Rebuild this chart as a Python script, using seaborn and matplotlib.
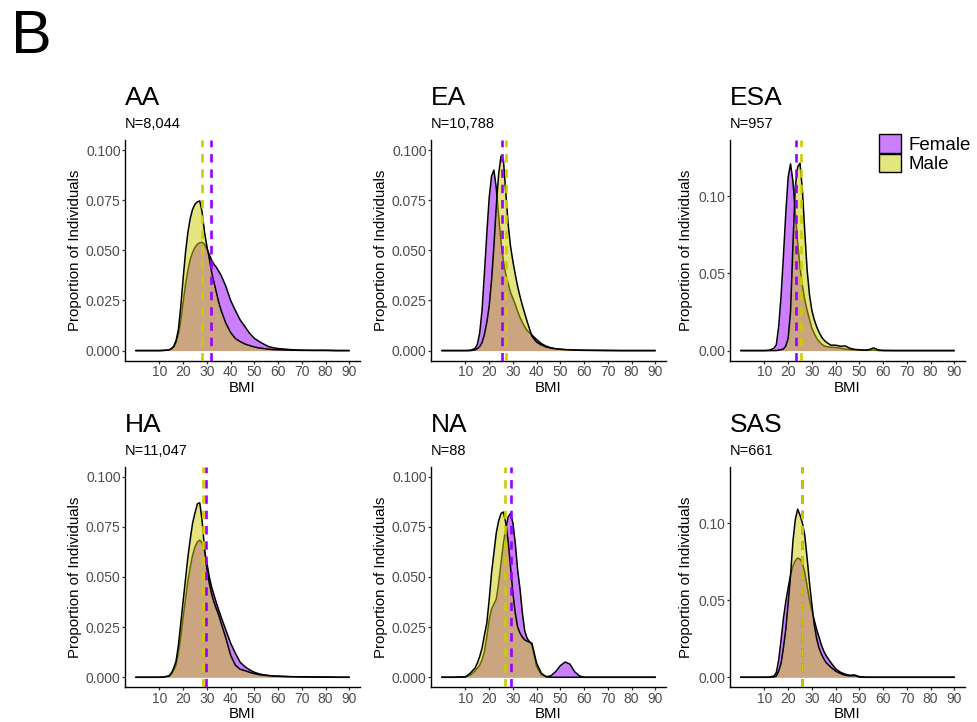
"""BMI density by sex for six ancestry groups (panel B)."""

import matplotlib
matplotlib.use('Agg')
import matplotlib.pyplot as plt
import seaborn as sns
from matplotlib.patches import Patch
from matplotlib.ticker import FormatStrFormatter

sns.set_theme(style='ticks')
plt.rcParams['font.family'] = ['Liberation Sans', 'DejaVu Sans']
plt.rcParams['text.color'] = 'black'
plt.rcParams['axes.labelcolor'] = 'black'

# ---- values --------------------------------------------------------------
bmi = [0, 5, 10, 12, 14, 15, 16, 17, 18, 19, 20, 21, 22, 23, 24, 25, 26, 27, 28, 29,
       30, 31, 32, 33, 34, 35, 36, 38, 40, 42, 44, 46, 48, 50, 52, 54, 56, 58, 60,
       65, 70, 75, 80, 85, 90]

groups = ['AA', 'EA', 'ESA', 'HA', 'NA', 'SAS']
sample_sizes = ['8,044', '10,788', '957', '11,047', '88', '661']
female_means = [31.6, 25.4, 23.2, 29.5, 29.2, 25.8]
male_means = [28.1, 26.9, 25.3, 28.4, 26.8, 26.0]

female_aa = [0, 0, 0, 0.0001, 0.0003, 0.0008, 0.0018, 0.004, 0.008, 0.015, 0.024, 0.033,
             0.040, 0.0455, 0.049, 0.0515, 0.053, 0.0538, 0.054, 0.053, 0.0505, 0.048,
             0.045, 0.043, 0.0415, 0.0395, 0.0375, 0.032, 0.025, 0.020, 0.0153, 0.012,
             0.0086, 0.0061, 0.0045, 0.0032, 0.002, 0.0014, 0.001, 0.0005, 0.0002,
             0.0001, 0.0001, 0, 0]
male_aa = [0, 0, 0, 0.0001, 0.0003, 0.001, 0.002, 0.005, 0.0105, 0.022, 0.036, 0.049,
           0.059, 0.066, 0.0705, 0.073, 0.0742, 0.0746, 0.069, 0.059, 0.052, 0.046,
           0.039, 0.034, 0.029, 0.024, 0.020, 0.0136, 0.009, 0.006, 0.0045, 0.0033,
           0.0025, 0.0018, 0.0013, 0.001, 0.0007, 0.0005, 0.0004, 0.0002, 0.0001,
           0.0001, 0.0001, 0, 0]

female_ea = [0, 0, 0, 0.0001, 0.001, 0.003, 0.0086, 0.020, 0.0385, 0.058, 0.076, 0.087,
             0.090, 0.081, 0.067, 0.054, 0.0445, 0.038, 0.0335, 0.029, 0.026, 0.023,
             0.0195, 0.0165, 0.014, 0.0118, 0.010, 0.0078, 0.0055, 0.0035, 0.0022,
             0.0014, 0.0009, 0.0006, 0.0004, 0.0003, 0.0002, 0.0002, 0.0001, 0.0001,
             0, 0, 0, 0, 0]
male_ea = [0, 0, 0, 0, 0.0003, 0.001, 0.002, 0.004, 0.008, 0.014, 0.022, 0.035, 0.052,
           0.072, 0.088, 0.097, 0.095, 0.079, 0.063, 0.052, 0.0445, 0.038, 0.032, 0.027,
           0.0225, 0.0185, 0.0145, 0.0072, 0.0042, 0.0028, 0.0018, 0.0012, 0.0009,
           0.0007, 0.0005, 0.0004, 0.0003, 0.0002, 0.0002, 0.0001, 0.0001, 0, 0, 0, 0]

female_esa = [0, 0, 0, 0.0002, 0.0015, 0.0037, 0.0155, 0.035, 0.061, 0.089, 0.1125,
              0.121, 0.110, 0.090, 0.070, 0.054, 0.042, 0.033, 0.026, 0.020, 0.0145,
              0.011, 0.008, 0.006, 0.0043, 0.0032, 0.0026, 0.0022, 0.002, 0.0015, 0.001,
              0.0006, 0.0004, 0.0003, 0.0002, 0.0002, 0.0003, 0.0001, 0, 0, 0, 0, 0, 0, 0]
male_esa = [0, 0, 0, 0, 0, 0, 0.0003, 0.0006, 0.001, 0.003, 0.008, 0.025, 0.068, 0.106,
            0.119, 0.1215, 0.104, 0.077, 0.052, 0.036, 0.026, 0.020, 0.0155, 0.012,
            0.009, 0.007, 0.0055, 0.0035, 0.0035, 0.0028, 0.003, 0.0015, 0.0008, 0.0005,
            0.0003, 0.0006, 0.0017, 0.0004, 0.0001, 0, 0, 0, 0, 0, 0]

female_ha = [0, 0, 0, 0.0001, 0.0005, 0.0015, 0.0035, 0.006, 0.012, 0.020, 0.030, 0.039,
             0.048, 0.055, 0.061, 0.065, 0.0675, 0.0684, 0.067, 0.063, 0.057, 0.050,
             0.045, 0.041, 0.037, 0.0335, 0.030, 0.0235, 0.017, 0.012, 0.0075, 0.0053,
             0.0037, 0.0025, 0.0017, 0.0012, 0.0009, 0.0006, 0.0005, 0.0003, 0.0002,
             0.0001, 0.0001, 0, 0]
male_ha = [0, 0, 0, 0.0002, 0.0007, 0.002, 0.0045, 0.008, 0.016, 0.027, 0.038, 0.049,
           0.060, 0.069, 0.077, 0.082, 0.0865, 0.087, 0.078, 0.064, 0.054, 0.047, 0.0415,
           0.0375, 0.034, 0.031, 0.027, 0.0195, 0.011, 0.006, 0.004, 0.0033, 0.0025,
           0.0018, 0.0013, 0.001, 0.0008, 0.0006, 0.0005, 0.0003, 0.0002, 0.0001,
           0.0001, 0, 0]

female_na = [0, 0, 0.0002, 0.001, 0.003, 0.0045, 0.006, 0.0086, 0.0128, 0.020, 0.0286,
             0.034, 0.0365, 0.039, 0.047, 0.057, 0.0668, 0.074, 0.080, 0.0817, 0.077,
             0.0668, 0.0535, 0.044, 0.032, 0.023, 0.0194, 0.016, 0.0053, 0.0012, 0.0003,
             0.0007, 0.0028, 0.0058, 0.0076, 0.0066, 0.0028, 0.0007, 0, 0, 0, 0, 0, 0, 0]
male_na = [0, 0, 0.0002, 0.002, 0.0045, 0.007, 0.0103, 0.0145, 0.021, 0.027, 0.0385,
           0.052, 0.062, 0.072, 0.078, 0.0817, 0.0824, 0.077, 0.068, 0.055, 0.042, 0.032,
           0.025, 0.022, 0.020, 0.0186, 0.018, 0.017, 0.007, 0.002, 0.0003, 0, 0, 0, 0,
           0, 0, 0, 0, 0, 0, 0, 0, 0, 0]

female_sas = [0, 0, 0, 0.0001, 0.0008, 0.003, 0.011, 0.024, 0.038, 0.049, 0.058, 0.066,
              0.072, 0.0755, 0.0773, 0.0765, 0.074, 0.068, 0.059, 0.050, 0.043, 0.037,
              0.031, 0.026, 0.021, 0.017, 0.014, 0.0095, 0.0055, 0.0033, 0.002, 0.0013,
              0.0015, 0.0004, 0.0001, 0, 0, 0, 0, 0, 0, 0, 0, 0, 0]
male_sas = [0, 0, 0, 0, 0.0002, 0.0008, 0.004, 0.009, 0.019, 0.031, 0.048, 0.066, 0.088,
            0.102, 0.109, 0.105, 0.100, 0.092, 0.077, 0.061, 0.047, 0.034, 0.025, 0.019,
            0.015, 0.012, 0.0095, 0.0065, 0.004, 0.0025, 0.0013, 0.0009, 0.0011, 0.0002,
            0, 0, 0, 0, 0, 0, 0, 0, 0, 0, 0]

female_curves = [female_aa, female_ea, female_esa, female_ha, female_na, female_sas]
male_curves = [male_aa, male_ea, male_esa, male_ha, male_na, male_sas]

# ---- styling ---------------------------------------------------------------
female_color = '#9900FF'
male_color = '#CCCC00'
W, H = 977, 722
col_left = [125, 431, 730]
row_top = [140, 466.7]
ax_w, ax_h = 235, 220.6

fig = plt.figure(figsize=(W / 100, H / 100), dpi=100)
fig.text(11 / W, 1 - 53 / H, 'B', fontsize=44, ha='left', va='baseline')

for i, group in enumerate(groups):
    row, col = divmod(i, 3)
    ax = fig.add_axes([col_left[col] / W, 1 - (row_top[row] + ax_h) / H, ax_w / W, ax_h / H])

    ax.fill_between(bmi, female_curves[i], color=female_color, alpha=0.5, lw=0, zorder=1)
    sns.lineplot(x=bmi, y=female_curves[i], ax=ax, color='black', lw=1.1, zorder=2)
    ax.fill_between(bmi, male_curves[i], color=male_color, alpha=0.5, lw=0, zorder=3)
    sns.lineplot(x=bmi, y=male_curves[i], ax=ax, color='black', lw=1.1, zorder=4)
    ax.axvline(female_means[i], color=female_color, lw=1.9, ls=(0, (3.2, 2.6)), zorder=5)
    ax.axvline(male_means[i], color=male_color, lw=1.9, ls=(0, (3.2, 2.6)), zorder=6)

    ax.set_xlim(-4.5, 94.5)
    ax.set_xticks(range(10, 91, 10))
    tall = group in ('ESA', 'SAS')
    if tall:
        ax.set_ylim(-0.0065, 0.1365)
        ax.set_yticks([0, 0.05, 0.10])
        ax.yaxis.set_major_formatter(FormatStrFormatter('%.2f'))
    else:
        ax.set_ylim(-0.005, 0.105)
        ax.set_yticks([0, 0.025, 0.05, 0.075, 0.1])
        ax.yaxis.set_major_formatter(FormatStrFormatter('%.3f'))

    sns.despine(ax=ax)
    for side in ('left', 'bottom'):
        ax.spines[side].set_color('black')
        ax.spines[side].set_linewidth(1.0)
    ax.tick_params(length=2.4, width=0.9, color='#333333', labelcolor='#4D4D4D',
                   labelsize=10, pad=0.7)

    ax.set_xlabel('BMI', fontsize=10.8)
    ax.set_ylabel('Proportion of Individuals', fontsize=10.8)
    ax.xaxis.set_label_coords(0.5, -20 / ax_h)
    ax.yaxis.set_label_coords((-37 if tall else -43) / ax_w, 0.5)

    ax.text(0, 1 + 35 / ax_h, group, transform=ax.transAxes, fontsize=19,
            ha='left', va='baseline')
    ax.text(0, 1 + 11.5 / ax_h, 'N=' + sample_sizes[i], transform=ax.transAxes,
            fontsize=10.5, ha='left', va='baseline')

handles = [Patch(facecolor=(0.6, 0.0, 1.0, 0.5), edgecolor='black', lw=1),
           Patch(facecolor=(0.8, 0.8, 0.0, 0.5), edgecolor='black', lw=1)]
fig.legend(handles, ['Female', 'Male'], loc='upper left',
           bbox_to_anchor=(879 / W, 1 - 134 / H), frameon=False, fontsize=13.5,
           borderpad=0, borderaxespad=0, handlelength=1.15, handleheight=1.15,
           handletextpad=0.45, labelspacing=0.0)

fig.savefig('out.png', dpi=100)
